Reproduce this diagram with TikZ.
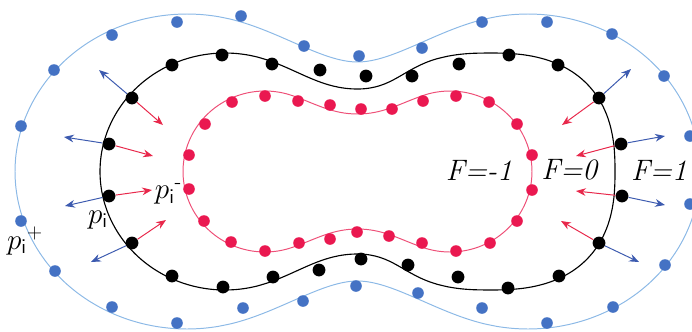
\documentclass[tikz,border=0pt]{standalone}
\usepackage{amsmath}
\usetikzlibrary{arrows.meta}
\definecolor{dotblue}{RGB}{68,114,196}
\definecolor{lineblue}{RGB}{140,185,230}
\definecolor{dotred}{RGB}{234,24,80}
\definecolor{linered}{RGB}{238,80,120}
\definecolor{arrblue}{RGB}{60,90,175}
\definecolor{arrred}{RGB}{232,40,75}
\begin{document}
\begin{tikzpicture}[>={Stealth[length=7pt,width=5.5pt]}, x=0.025cm, y=-0.025cm,
  zero/.style={circle, fill=black, inner sep=0pt, minimum size=0.32cm},
  inside/.style={circle, fill=dotred, inner sep=0pt, minimum size=0.29cm},
  outside/.style={circle, fill=dotblue, inner sep=0pt, minimum size=0.29cm},
  outward/.style={->, arrblue, line width=0.7pt},
  inward/.style={->, arrred, line width=0.7pt},
  lab/.style={inner sep=0pt, font=\fontsize{21}{25}\selectfont}]
\useasboundingbox (0,0) rectangle (692,331);
% level set F=1
\draw[lineblue, line width=0.7pt] (357.5,62) .. controls (322.5,62) and (280.1,31.3) .. (231.5,19.4)
  -- plot[smooth, domain=75:285, samples=43] ({187+172*cos(\x)}, {171.5-157.5*sin(\x)})
  .. controls (280.1,311.7) and (322.5,281) .. (357.5,281) .. controls (392.5,281) and (434.9,311.7) .. (483.5,323.6)
  -- plot[smooth, domain=255:465, samples=43] ({528+172*cos(\x)}, {171.5-157.5*sin(\x)})
  .. controls (434.9,31.3) and (392.5,62) .. cycle;
% level set F=0
\draw[black, line width=0.8pt] (357.5,89) .. controls (322.5,89) and (300.85,71.55) .. (267.75,60.15)
  -- plot[smooth, domain=70:290, samples=45] ({225+125*cos(\x)}, {171.5-118.5*sin(\x)})
  .. controls (300.85,271.45) and (322.5,254) .. (357.5,254) .. controls (392.5,254) and (403.3,274.7) .. (437,284.2)
  -- plot[smooth, domain=250:470, samples=44] ({490+125*(cos(\x)<0 ? -1 : 1)*abs(cos(\x))^0.8}, {171.5-118.5*(sin(\x)<0 ? -1 : 1)*abs(sin(\x))^0.8})
  .. controls (403.3,68.3) and (392.5,89) .. cycle;
% level set F=-1
\draw[linered, line width=0.7pt] (357.5,114) .. controls (332.5,114) and (316.55,104.25) .. (293.05,95.85)
  -- plot[smooth, domain=70:290, samples=45] ({265+82*cos(\x)}, {171.5-80.5*sin(\x)})
  .. controls (316.55,238.75) and (332.5,229) .. (357.5,229) .. controls (382.5,229) and (398.45,238.75) .. (421.95,247.15)
  -- plot[smooth, domain=250:470, samples=45] ({450+82*cos(\x)}, {171.5-80.5*sin(\x)})
  .. controls (398.45,104.25) and (382.5,114) .. cycle;
% outer points
\node[outside] (o1) at (21,126) {}; \node[outside] (o2) at (54,70) {}; \node[outside] (o3) at (112,35) {};
\node[outside] (o4) at (177,22) {}; \node[outside] (o5) at (241,16) {}; \node[outside] (o6) at (304,46) {};
\node[outside] (o7) at (359,56) {}; \node[outside] (o8) at (422,48) {}; \node[outside] (o9) at (482,22) {};
\node[outside] (o10) at (547,22) {}; \node[outside] (o11) at (612,34) {}; \node[outside] (o12) at (664,76) {};
\node[outside] (o13) at (690,136) {}; \node[outside] (o14) at (690,204) {}; \node[outside] (o15) at (665,265) {};
\node[outside] (o16) at (613,307) {}; \node[outside] (o17) at (547,323) {}; \node[outside] (o18) at (482,308) {};
\node[outside] (o19) at (418,293) {}; \node[outside] (o20) at (356,286) {}; \node[outside] (o21) at (303,301) {};
\node[outside] (o22) at (243,308) {}; \node[outside] (o23) at (177,323) {}; \node[outside] (o24) at (112,307) {};
\node[outside] (o25) at (55,271) {}; \node[outside] (o26) at (21,221) {};
% zero level points
\node[zero] (z1) at (132,98) {}; \node[zero] (z2) at (109,144) {}; \node[zero] (z3) at (172,65) {};
\node[zero] (z4) at (222,55) {}; \node[zero] (z5) at (272,64) {}; \node[zero] (z6) at (320,70) {};
\node[zero] (z7) at (366,76) {}; \node[zero] (z8) at (412,76) {}; \node[zero] (z9) at (459,64) {};
\node[zero] (z10) at (509,55) {}; \node[zero] (z11) at (558,65) {}; \node[zero] (z12) at (599,98) {};
\node[zero] (z13) at (621,144) {}; \node[zero] (z14) at (622,196) {}; \node[zero] (z15) at (599,243) {};
\node[zero] (z16) at (559,276) {}; \node[zero] (z17) at (508,288) {}; \node[zero] (z18) at (458,277) {};
\node[zero] (z19) at (408,265) {}; \node[zero] (z20) at (361,259) {}; \node[zero] (z21) at (319,270) {};
\node[zero] (z22) at (273,277) {}; \node[zero] (z23) at (223,287) {}; \node[zero] (z24) at (172,276) {};
\node[zero] (z25) at (132,243) {}; \node[zero] (z26) at (109,196) {};
% inner points
\node[inside] (n1) at (189,155) {}; \node[inside] (n2) at (205,124) {}; \node[inside] (n3) at (232,102) {};
\node[inside] (n4) at (265,96) {}; \node[inside] (n5) at (298,101) {}; \node[inside] (n6) at (330,105) {};
\node[inside] (n7) at (361,109) {}; \node[inside] (n8) at (392,109) {}; \node[inside] (n9) at (423,101) {};
\node[inside] (n10) at (456,96) {}; \node[inside] (n11) at (489,102) {}; \node[inside] (n12) at (517,124) {};
\node[inside] (n13) at (532,155) {}; \node[inside] (n14) at (532,190) {}; \node[inside] (n15) at (517,221) {};
\node[inside] (n16) at (490,243) {}; \node[inside] (n17) at (456,251) {}; \node[inside] (n18) at (422,243) {};
\node[inside] (n19) at (389,236) {}; \node[inside] (n20) at (357,232) {}; \node[inside] (n21) at (330,239) {};
\node[inside] (n22) at (299,243) {}; \node[inside] (n23) at (265,251) {}; \node[inside] (n24) at (231,242) {};
\node[inside] (n25) at (204,221) {}; \node[inside] (n26) at (189,189) {};
% arrow ends
\coordinate (up1) at (99,70); \coordinate (dn1) at (163,125);
\coordinate (up2) at (64,137); \coordinate (dn2) at (153,156);
\coordinate (up3) at (65,206); \coordinate (dn3) at (152,190);
\coordinate (up4) at (91,262); \coordinate (dn4) at (166,220);
\coordinate (up5) at (631,69); \coordinate (dn5) at (562,125);
\coordinate (up6) at (665,136); \coordinate (dn6) at (576,156);
\coordinate (up7) at (665,205); \coordinate (dn7) at (576,191);
\coordinate (up8) at (639,262); \coordinate (dn8) at (561,221);
\draw[outward] (z1) -- (up1); \draw[inward] (z1) -- (dn1);
\draw[outward] (z2) -- (up2); \draw[inward] (z2) -- (dn2);
\draw[outward] (z26) -- (up3); \draw[inward] (z26) -- (dn3);
\draw[outward] (z25) -- (up4); \draw[inward] (z25) -- (dn4);
\draw[outward] (z12) -- (up5); \draw[inward] (z12) -- (dn5);
\draw[outward] (z13) -- (up6); \draw[inward] (z13) -- (dn6);
\draw[outward] (z14) -- (up7); \draw[inward] (z14) -- (dn7);
\draw[outward] (z15) -- (up8); \draw[inward] (z15) -- (dn8);
% labels
\node[lab] (fminus) at (479,170) {\textit{F=-1}};
\node[lab] (fzero) at (570,170) {\textit{F=0}};
\node[lab] (fplus) at (659,170) {\textit{F=1}};
\node[lab] (pminus) at (168.5,194) {$p_{\mathsf{i}}{}^{\text{-}}$};
\node[lab] (pzero) at (98,220) {$p_{\mathsf{i}}$};
\node[lab] (pplus) at (25,241) {$p_{\mathsf{i}}{}^{+}$};
\end{tikzpicture}
\end{document}
